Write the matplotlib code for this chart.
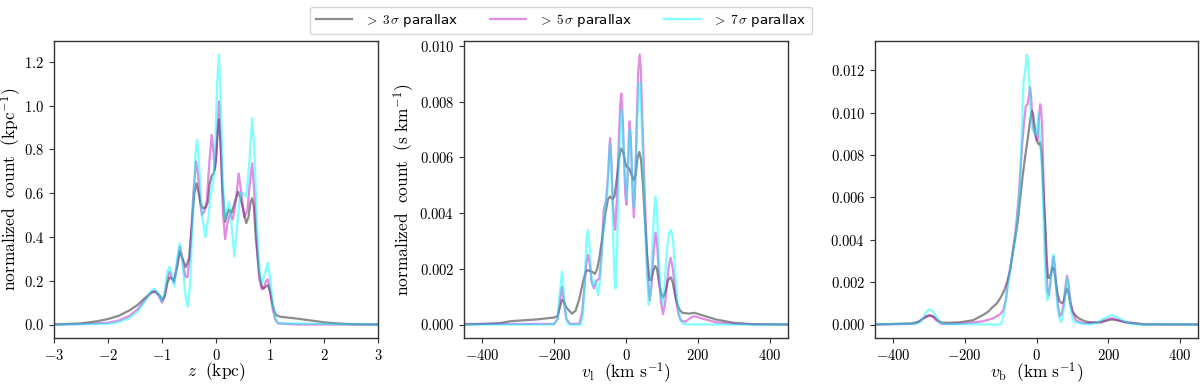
import matplotlib
matplotlib.use("Agg")
import matplotlib.pyplot as plt
from matplotlib.ticker import FuncFormatter, MultipleLocator

plt.rcParams['mathtext.fontset'] = 'cm'
plt.rcParams['font.family'] = ['DejaVu Sans']

# ---------------- Panel 1: z (kpc) ----------------
z_3s_x = [-3.0, -2.5, -2.2, -2.0, -1.8, -1.6, -1.45, -1.32, -1.2, -1.12, -1.05, -0.99, -0.95, -0.9, -0.86, -0.82, -0.78, -0.72, -0.67, -0.62, -0.56, -0.5, -0.45, -0.4, -0.36, -0.32, -0.28, -0.235, -0.19, -0.15, -0.12, -0.08, -0.04, 0.0, 0.03, 0.055, 0.085, 0.12, 0.17, 0.21, 0.24, 0.29, 0.35, 0.41, 0.45, 0.5, 0.56, 0.6, 0.64, 0.67, 0.7, 0.74, 0.8, 0.85, 0.88, 0.93, 0.96, 1.0, 1.04, 1.08, 1.12, 1.2, 1.5, 1.8, 2.0, 2.3, 2.6, 3.0]
z_3s_y = [0.0, 0.005, 0.015, 0.025, 0.04, 0.065, 0.09, 0.12, 0.145, 0.15, 0.135, 0.112, 0.13, 0.19, 0.215, 0.21, 0.2, 0.26, 0.333, 0.3, 0.262, 0.3, 0.45, 0.6, 0.646, 0.6, 0.547, 0.531, 0.535, 0.56, 0.64, 0.68, 0.69, 0.75, 0.88, 0.936, 0.82, 0.62, 0.47, 0.51, 0.525, 0.511, 0.56, 0.607, 0.58, 0.53, 0.463, 0.49, 0.56, 0.577, 0.54, 0.39, 0.234, 0.17, 0.165, 0.175, 0.18, 0.15, 0.1, 0.06, 0.042, 0.035, 0.027, 0.017, 0.01, 0.004, 0.001, 0.0]

z_5s_x = [-3.0, -2.5, -2.0, -1.8, -1.6, -1.45, -1.32, -1.2, -1.13, -1.06, -1.0, -0.95, -0.9, -0.86, -0.82, -0.78, -0.72, -0.67, -0.62, -0.57, -0.53, -0.48, -0.42, -0.37, -0.33, -0.29, -0.26, -0.21, -0.17, -0.12, -0.08, -0.05, -0.02, 0.01, 0.055, 0.09, 0.13, 0.17, 0.21, 0.26, 0.31, 0.36, 0.42, 0.47, 0.52, 0.58, 0.62, 0.67, 0.71, 0.76, 0.8, 0.85, 0.88, 0.93, 0.96, 1.0, 1.05, 1.1, 1.15, 1.5, 3.0]
z_5s_y = [0.0, 0.002, 0.008, 0.018, 0.04, 0.07, 0.11, 0.148, 0.155, 0.13, 0.1, 0.13, 0.21, 0.24, 0.215, 0.19, 0.28, 0.356, 0.3, 0.22, 0.215, 0.32, 0.6, 0.745, 0.68, 0.55, 0.5, 0.52, 0.57, 0.75, 0.867, 0.8, 0.707, 0.8, 1.02, 0.8, 0.5, 0.39, 0.46, 0.51, 0.48, 0.55, 0.69, 0.6, 0.49, 0.52, 0.63, 0.737, 0.6, 0.35, 0.21, 0.16, 0.165, 0.2, 0.206, 0.16, 0.07, 0.02, 0.005, 0.0, 0.0]

z_7s_x = [-3.0, -2.0, -1.8, -1.6, -1.45, -1.32, -1.2, -1.14, -1.06, -1.0, -0.95, -0.9, -0.86, -0.82, -0.77, -0.72, -0.67, -0.62, -0.56, -0.52, -0.48, -0.43, -0.38, -0.35, -0.31, -0.26, -0.2, -0.15, -0.1, -0.05, -0.01, 0.02, 0.055, 0.09, 0.12, 0.16, 0.2, 0.24, 0.28, 0.34, 0.39, 0.45, 0.5, 0.56, 0.62, 0.67, 0.71, 0.76, 0.81, 0.85, 0.9, 0.96, 1.01, 1.06, 1.1, 1.15, 3.0]
z_7s_y = [0.0, 0.003, 0.01, 0.03, 0.06, 0.105, 0.155, 0.162, 0.14, 0.105, 0.15, 0.24, 0.264, 0.23, 0.173, 0.3, 0.371, 0.28, 0.12, 0.081, 0.18, 0.5, 0.78, 0.844, 0.72, 0.5, 0.4, 0.47, 0.585, 0.66, 0.85, 1.1, 1.234, 1.0, 0.7, 0.48, 0.52, 0.562, 0.48, 0.31, 0.45, 0.6, 0.6, 0.585, 0.75, 0.944, 0.8, 0.45, 0.23, 0.188, 0.23, 0.282, 0.2, 0.08, 0.03, 0.005, 0.0]

# ---------------- Panel 2: v_l (km/s) ----------------
vl_3s_x = [-450, -400, -350, -320, -250, -200, -190, -184, -178, -172, -165, -150, -140, -130, -120, -112, -106, -95, -86, -80, -74, -65, -57, -50, -44, -38, -32, -25, -19, -14, -8, 0, 9, 15, 21, 27, 32, 37, 42, 47, 52, 58, 65, 70, 75, 81, 86, 92, 98, 103, 110, 117, 124, 130, 137, 143, 150, 157, 175, 190, 220, 250, 300, 350, 450]
vl_3s_y = [0.0, 0.00002, 0.00005, 0.00012, 0.00018, 0.00025, 0.0003, 0.0006, 0.00089, 0.0008, 0.0006, 0.00039, 0.0005, 0.0009, 0.0015, 0.0019, 0.00195, 0.0019, 0.00182, 0.002, 0.0024, 0.0032, 0.004, 0.0045, 0.0046, 0.0045, 0.0046, 0.0053, 0.006, 0.00633, 0.0062, 0.0057, 0.0056, 0.0054, 0.00518, 0.0054, 0.006, 0.0062, 0.0059, 0.005, 0.0039, 0.0026, 0.0016, 0.0016, 0.0019, 0.0021, 0.002, 0.0015, 0.0011, 0.00097, 0.0012, 0.0016, 0.0017, 0.0015, 0.001, 0.0007, 0.0005, 0.00042, 0.00039, 0.00042, 0.0003, 0.00018, 0.00006, 0.00001, 0.0]

vl_5s_x = [-450, -200, -190, -184, -178, -172, -166, -155, -130, -122, -115, -110, -106, -101, -95, -89, -84, -80, -74, -68, -62, -55, -49, -46, -44, -41, -37, -33, -30, -25, -20, -16, -13, -9, -5, -2, 1, 5, 8, 10, 13, 16, 19, 22, 26, 30, 34, 38, 41, 45, 50, 55, 60, 66, 71, 76, 82, 87, 92, 97, 103, 109, 114, 119, 124, 130, 138, 145, 152, 165, 180, 190, 210, 250, 300, 450]
vl_5s_y = [0.00002, 0.00002, 0.0002, 0.0008, 0.00135, 0.0008, 0.0002, 0.00002, 0.00002, 0.0004, 0.0014, 0.0022, 0.0025, 0.0022, 0.0015, 0.0013, 0.0015, 0.0016, 0.00165, 0.0025, 0.0041, 0.0045, 0.0055, 0.0064, 0.0067, 0.006, 0.0045, 0.0037, 0.0034, 0.0046, 0.0066, 0.0079, 0.0083, 0.0074, 0.0058, 0.0047, 0.0043, 0.0055, 0.0068, 0.0073, 0.0068, 0.0056, 0.0045, 0.00385, 0.0052, 0.0074, 0.0091, 0.0097, 0.0092, 0.0076, 0.0055, 0.0036, 0.0018, 0.00087, 0.0014, 0.0025, 0.0033, 0.0028, 0.0016, 0.0008, 0.00037, 0.0008, 0.0015, 0.0021, 0.0024, 0.002, 0.001, 0.0004, 0.00015, 0.0001, 0.00025, 0.0003, 0.00022, 0.00008, 0.00002, 0.0]

vl_7s_x = [-450, -200, -190, -185, -178, -172, -166, -160, -125, -120, -114, -110, -106, -101, -96, -92, -87, -82, -77, -71, -65, -58, -52, -48, -44, -40, -36, -32, -29, -25, -20, -16, -12, -8, -4, 2, 6, 10, 14, 18, 22, 26, 31, 35, 38, 42, 47, 52, 57, 63, 68, 73, 78, 82, 86, 91, 96, 101, 107, 113, 120, 125, 131, 137, 143, 150, 158, 170, 450]
vl_7s_y = [0.0, 0.0, 0.0002, 0.001, 0.0019, 0.001, 0.0002, 0.0, 0.0, 0.0003, 0.0018, 0.003, 0.0034, 0.0028, 0.0016, 0.0014, 0.0016, 0.0013, 0.00105, 0.0018, 0.003, 0.0042, 0.0047, 0.0058, 0.0065, 0.0055, 0.0032, 0.0017, 0.0013, 0.0025, 0.0055, 0.0071, 0.0077, 0.0068, 0.0055, 0.0045, 0.0058, 0.007, 0.0064, 0.0052, 0.0042, 0.0052, 0.0073, 0.0084, 0.0087, 0.0078, 0.006, 0.004, 0.0021, 0.0007, 0.0012, 0.0027, 0.0041, 0.0046, 0.0041, 0.0024, 0.0011, 0.0007, 0.0014, 0.0026, 0.0033, 0.0034, 0.003, 0.0018, 0.0008, 0.0002, 0.00003, 0.0, 0.0]

# ---------------- Panel 3: v_b (km/s) ----------------
vb_3s_x = [-450, -350, -330, -318, -305, -295, -285, -275, -265, -250, -215, -177, -150, -135, -122, -110, -99, -90, -80, -73, -66, -59, -52, -45, -38, -31, -25, -18, -13, -9, -5, 0, 3, 7, 10, 14, 17, 21, 25, 28, 32, 36, 40, 45, 49, 53, 58, 64, 71, 76, 81, 85, 89, 94, 101, 110, 119, 135, 150, 180, 195, 210, 225, 250, 300, 450]
vb_3s_y = [0.0, 0.00005, 0.00012, 0.00025, 0.00038, 0.00042, 0.00035, 0.0002, 0.0001, 0.00008, 0.0001, 0.0002, 0.00044, 0.0006, 0.00083, 0.001, 0.0013, 0.0016, 0.0021, 0.0026, 0.0034, 0.0041, 0.0049, 0.006, 0.0071, 0.008, 0.0087, 0.0096, 0.0101, 0.0099, 0.0093, 0.0087, 0.0086, 0.0085, 0.0086, 0.0081, 0.0071, 0.0058, 0.0046, 0.0033, 0.0022, 0.0022, 0.0024, 0.0027, 0.0026, 0.0021, 0.0015, 0.0011, 0.001, 0.0011, 0.0015, 0.0017, 0.0015, 0.001, 0.0006, 0.0004, 0.00028, 0.00015, 0.0001, 0.0001, 0.00018, 0.00024, 0.0002, 0.0001, 0.00001, 0.0]

vb_5s_x = [-450, -340, -325, -312, -300, -290, -280, -265, -250, -200, -150, -120, -100, -92, -85, -80, -75, -70, -65, -60, -55, -50, -45, -40, -35, -30, -25, -21, -18, -15, -12, -8, -5, 0, 3, 6, 10, 13, 16, 19, 22, 25, 28, 31, 34, 38, 43, 47, 51, 55, 60, 65, 70, 75, 80, 85, 89, 94, 100, 110, 130, 170, 190, 210, 230, 250, 300, 450]
vb_5s_y = [0.0, 0.00003, 0.00015, 0.00035, 0.00045, 0.0004, 0.0002, 0.00003, 0.00002, 0.00005, 0.00015, 0.0003, 0.0005, 0.0007, 0.0012, 0.002, 0.0025, 0.003, 0.0036, 0.0042, 0.005, 0.006, 0.0072, 0.0085, 0.0095, 0.0103, 0.0104, 0.0108, 0.0112, 0.0108, 0.0098, 0.0092, 0.009, 0.0088, 0.0087, 0.0095, 0.0104, 0.0102, 0.0092, 0.0072, 0.0052, 0.0036, 0.0024, 0.0016, 0.0014, 0.0018, 0.0027, 0.0032, 0.0028, 0.0018, 0.0009, 0.0004, 0.0005, 0.0009, 0.0017, 0.0023, 0.002, 0.0012, 0.0006, 0.0002, 0.00005, 0.0001, 0.0002, 0.0003, 0.0002, 0.0001, 0.0, 0.0]

vb_7s_x = [-450, -330, -320, -310, -300, -290, -280, -270, -255, -100, -95, -90, -85, -78, -73, -68, -63, -58, -53, -48, -45, -42, -39, -36, -33, -30, -27, -24, -21, -17, -14, -11, -8, -4, 0, 3, 5, 8, 11, 15, 18, 22, 26, 30, 35, 40, 44, 47, 51, 55, 59, 62, 68, 73, 78, 82, 85, 89, 95, 100, 105, 150, 170, 190, 210, 225, 240, 260, 280, 450]
vb_7s_y = [0.0, 0.00005, 0.0002, 0.0005, 0.00072, 0.00065, 0.0004, 0.0001, 0.00002, 0.0, 0.0002, 0.0006, 0.0012, 0.002, 0.0026, 0.0032, 0.0037, 0.0043, 0.0051, 0.006, 0.007, 0.0085, 0.0102, 0.0115, 0.0118, 0.0122, 0.01275, 0.0125, 0.0117, 0.0103, 0.0095, 0.0092, 0.0092, 0.009, 0.0089, 0.0095, 0.00995, 0.0094, 0.0085, 0.0075, 0.006, 0.0035, 0.0017, 0.00115, 0.0014, 0.0022, 0.003, 0.0033, 0.0027, 0.0015, 0.0007, 0.0004, 0.0001, 0.0004, 0.001, 0.0018, 0.0022, 0.0018, 0.0008, 0.0003, 0.0001, 0.0, 0.0001, 0.0003, 0.00045, 0.00035, 0.0002, 0.00005, 0.0, 0.0]

series_labels = [r'$>\;3\,\sigma$ parallax', r'$>\;5\,\sigma$ parallax', r'$>\;7\,\sigma$ parallax']
series_colors = ['k', 'm', 'cyan']
series_alpha = [0.45, 0.45, 0.5]

fig = plt.figure(figsize=(12, 3.86), dpi=100)
ax1 = fig.add_axes([54/1200, 48/386, 324/1200, 297/386])
ax2 = fig.add_axes([464/1200, 48/386, 324/1200, 297/386])
ax3 = fig.add_axes([875/1200, 48/386, 323/1200, 297/386])

panels = [
    (ax1, [(z_3s_x, z_3s_y), (z_5s_x, z_5s_y), (z_7s_x, z_7s_y)]),
    (ax2, [(vl_3s_x, vl_3s_y), (vl_5s_x, vl_5s_y), (vl_7s_x, vl_7s_y)]),
    (ax3, [(vb_3s_x, vb_3s_y), (vb_5s_x, vb_5s_y), (vb_7s_x, vb_7s_y)]),
]
handles = []
for ax, curves in panels:
    hs = []
    for (x, y), c, a, lab in zip(curves, series_colors, series_alpha, series_labels):
        h, = ax.plot(x, y, color=c, alpha=a, lw=1.6, label=lab, solid_joinstyle='round')
        hs.append(h)
    handles = hs
    for sp in ax.spines.values():
        sp.set_color('#333333')
        sp.set_linewidth(1.0)
    ax.tick_params(labelsize=10.5, color='#333333')

ax1.set_xlim(-3, 3)
ax2.set_xlim(-450, 450)
ax3.set_xlim(-450, 450)
ax2.xaxis.set_major_locator(MultipleLocator(200))
ax3.xaxis.set_major_locator(MultipleLocator(200))
ax1.yaxis.set_major_locator(MultipleLocator(0.2))
ax2.yaxis.set_major_locator(MultipleLocator(0.002))
ax3.yaxis.set_major_locator(MultipleLocator(0.002))

def fmt(dec):
    return FuncFormatter(lambda v, p: r'$%s$' % (('%.' + str(dec) + 'f') % v))

ax1.xaxis.set_major_formatter(fmt(0))
ax1.yaxis.set_major_formatter(fmt(1))
ax2.xaxis.set_major_formatter(fmt(0))
ax2.yaxis.set_major_formatter(fmt(3))
ax3.xaxis.set_major_formatter(fmt(0))
ax3.yaxis.set_major_formatter(fmt(3))

ax1.set_ylabel(r'$\mathrm{normalized\ \ count\ \ (kpc^{-1})}$', fontsize=12.5)
ax2.set_ylabel(r'$\mathrm{normalized\ \ count\ \ (s\ km^{-1})}$', fontsize=12.5)
ax1.yaxis.set_label_coords(-0.094, 0.5)
ax2.yaxis.set_label_coords(-0.145, 0.5)

ax1.set_xlabel(r'$z\ \ \mathrm{(kpc)}$', fontsize=12.5)
ax2.set_xlabel(r'$v_\mathrm{l}\ \ \mathrm{(km\ s^{-1})}$', fontsize=12.5)
ax3.set_xlabel(r'$v_\mathrm{b}\ \ \mathrm{(km\ s^{-1})}$', fontsize=12.5)
for ax in (ax1, ax2, ax3):
    ax.xaxis.set_label_coords(0.5, -0.076)

fig.legend(handles=handles, labels=series_labels, loc='upper center',
           bbox_to_anchor=(561/1200, 1.0), ncol=3, fontsize=9.6,
           handlelength=2.7, handletextpad=0.9, columnspacing=2.4,
           frameon=True, fancybox=True, borderpad=0.4)

fig.savefig('out.png', dpi=100)
